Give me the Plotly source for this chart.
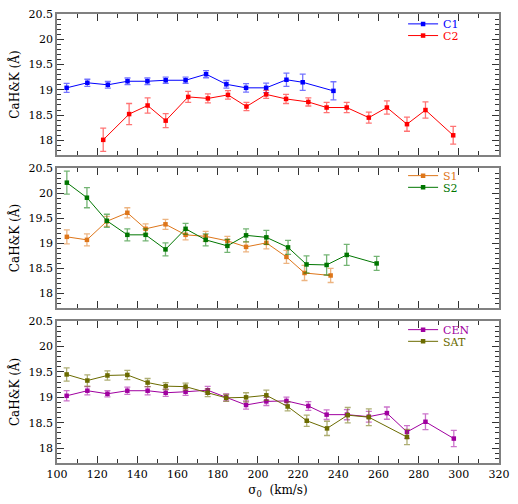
import plotly.graph_objects as go

# data (sigma_0 in km/s, CaH&K in Angstrom)

c1_x = [104.8, 115.1, 125.3, 135.1, 145.0, 154.1, 164.0, 174.2, 184.3, 194.1, 204.1, 214.2, 222.3, 237.6]
c1_y = [19.04, 19.14, 19.10, 19.17, 19.17, 19.19, 19.19, 19.31, 19.11, 19.04, 19.04, 19.20, 19.15, 18.98]
c1_err = [0.09, 0.07, 0.065, 0.065, 0.065, 0.06, 0.06, 0.07, 0.075, 0.085, 0.095, 0.13, 0.16, 0.18]

c2_x = [123.0, 135.9, 145.1, 154.1, 165.3, 175.1, 185.1, 194.3, 204.1, 214.0, 225.1, 234.2, 244.2, 255.2, 264.2, 274.2, 283.4, 297.2]
c2_y = [18.01, 18.52, 18.69, 18.39, 18.86, 18.83, 18.90, 18.67, 18.91, 18.82, 18.76, 18.65, 18.65, 18.45, 18.65, 18.32, 18.60, 18.10]
c2_err = [0.23, 0.21, 0.15, 0.14, 0.11, 0.09, 0.085, 0.08, 0.08, 0.09, 0.08, 0.10, 0.10, 0.11, 0.13, 0.14, 0.16, 0.175]

s1_x = [104.9, 114.9, 124.8, 135.0, 144.1, 154.0, 164.0, 174.0, 184.8, 194.1, 204.2, 214.2, 223.2, 236.2]
s1_y = [19.13, 19.07, 19.44, 19.61, 19.29, 19.38, 19.17, 19.14, 19.05, 18.93, 19.01, 18.73, 18.41, 18.36]
s1_err = [0.14, 0.12, 0.10, 0.10, 0.10, 0.10, 0.10, 0.10, 0.09, 0.10, 0.12, 0.13, 0.15, 0.14]

s2_x = [104.9, 114.9, 124.8, 135.0, 144.1, 154.0, 164.0, 174.0, 184.8, 194.1, 204.2, 215.0, 224.2, 234.2, 244.2, 259.1]
s2_y = [20.21, 19.91, 19.45, 19.17, 19.17, 18.88, 19.29, 19.07, 18.95, 19.16, 19.12, 18.92, 18.58, 18.57, 18.77, 18.60]
s2_err = [0.23, 0.20, 0.13, 0.12, 0.12, 0.13, 0.11, 0.12, 0.13, 0.13, 0.14, 0.14, 0.17, 0.20, 0.21, 0.14]

cen_x = [104.8, 115.1, 125.1, 135.0, 145.1, 154.1, 164.0, 175.0, 184.2, 194.1, 204.2, 214.2, 225.1, 234.2, 244.3, 255.2, 264.2, 274.2, 283.4, 297.5]
cen_y = [19.03, 19.13, 19.07, 19.13, 19.13, 19.09, 19.11, 19.14, 19.00, 18.85, 18.92, 18.93, 18.83, 18.66, 18.66, 18.62, 18.69, 18.32, 18.52, 18.19]
cen_err = [0.10, 0.08, 0.06, 0.07, 0.08, 0.07, 0.07, 0.075, 0.07, 0.08, 0.08, 0.075, 0.085, 0.095, 0.10, 0.105, 0.12, 0.125, 0.155, 0.16]

sat_x = [104.8, 115.1, 125.1, 135.0, 145.1, 154.1, 164.0, 175.0, 184.2, 194.1, 204.2, 214.8, 224.3, 234.4, 244.7, 255.2, 274.2]
sat_y = [19.45, 19.33, 19.43, 19.44, 19.29, 19.22, 19.21, 19.09, 18.99, 19.00, 19.04, 18.82, 18.54, 18.39, 18.65, 18.61, 18.22]
sat_err = [0.13, 0.11, 0.09, 0.09, 0.08, 0.07, 0.07, 0.075, 0.07, 0.09, 0.10, 0.085, 0.11, 0.14, 0.15, 0.165, 0.15]

serif = "DejaVu Serif"

fig = go.Figure()

# one entry per legend so the entries can sit close together like the original
series = [
    ("C1", c1_x, c1_y, c1_err, (0, 0, 255), "y", "legend", 0.978),
    ("C2", c2_x, c2_y, c2_err, (255, 0, 0), "y", "legend2", 0.952),
    ("S1", s1_x, s1_y, s1_err, (222, 118, 26), "y2", "legend3", 0.640),
    ("S2", s2_x, s2_y, s2_err, (0, 118, 0), "y2", "legend4", 0.614),
    ("CEN", cen_x, cen_y, cen_err, (160, 0, 160), "y3", "legend5", 0.297),
    ("SAT", sat_x, sat_y, sat_err, (107, 107, 0), "y3", "legend6", 0.271),
]

xref = {"y": "x3", "y2": "x2", "y3": "x"}

for name, xs, ys, es, rgb, yax, leg, ly in series:
    col = "rgb(%d,%d,%d)" % rgb
    fig.add_trace(go.Scatter(
        x=xs, y=ys, name=name, mode="lines+markers",
        xaxis=xref[yax], yaxis=yax, legend=leg,
        line=dict(color=col, width=1),
        marker=dict(color=col, size=4.5, symbol="square"),
        error_y=dict(type="data", array=es, color="rgba(%d,%d,%d,0.55)" % rgb, thickness=1.3, width=3),
    ))
    fig.update_layout({leg: dict(
        x=0.783, y=ly, xanchor="left", yanchor="middle",
        bgcolor="rgba(0,0,0,0)", borderwidth=0,
        font=dict(family=serif, size=11, color=col),
    )})

# axes: boxed panels with inside ticks on all four sides
xcommon = dict(
    range=[100, 320], dtick=20, ticks="inside", ticklen=7, tickwidth=1, tickcolor="#333",
    minor=dict(dtick=10, ticks="inside", ticklen=4, tickcolor="#333"),
    showline=True, linecolor="#808080", linewidth=1.5, mirror="allticks",
    showgrid=False, zeroline=False, tickfont=dict(family=serif, size=11, color="black"),
)
ycommon = dict(
    range=[17.71, 20.502], dtick=0.5, tick0=18, ticks="inside", ticklen=7, tickwidth=1, tickcolor="#333",
    minor=dict(dtick=0.1, ticks="inside", ticklen=4, tickcolor="#333"),
    showline=True, linecolor="#808080", linewidth=1.5, mirror="allticks",
    showgrid=False, zeroline=False, tickfont=dict(family=serif, size=11, color="black"),
    title=dict(text="CaH&K (Å)", font=dict(family=serif, size=12, color="black"), standoff=6),
)

fig.update_layout(
    xaxis=dict(xcommon, anchor="y3",
               title=dict(text="σ<sub>0</sub>  (km/s)", font=dict(family=serif, size=12, color="black"), standoff=6)),
    xaxis2=dict(xcommon, anchor="y2", matches="x", showticklabels=False),
    xaxis3=dict(xcommon, anchor="y", matches="x", showticklabels=False),
    yaxis=dict(ycommon, domain=[0.686, 1.0], anchor="x3"),
    yaxis2=dict(ycommon, domain=[0.345, 0.657], anchor="x2"),
    yaxis3=dict(ycommon, domain=[0.0, 0.3165], anchor="x"),
    width=518, height=504,
    margin=dict(l=57, r=14, t=8, b=41),
    plot_bgcolor="white", paper_bgcolor="white",
    showlegend=True,
)

# drop the default page margin so the 518x504 figure fills the window, no modebar
fig.write_html("out.html", config={"displayModeBar": False},
               post_script="document.body.style.margin='0';")
